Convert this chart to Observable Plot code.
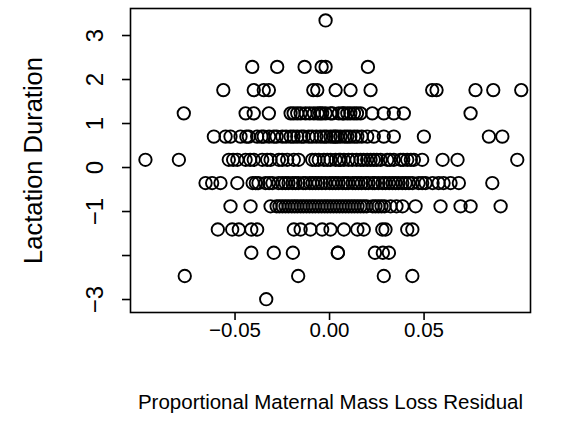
<!DOCTYPE html>
<html>
<head>
<meta charset="utf-8">
<script src="https://cdn.jsdelivr.net/npm/d3@7"></script>
<script src="https://cdn.jsdelivr.net/npm/@observablehq/plot@0.6"></script>
<style>
  html, body { margin: 0; padding: 0; background: #fff; }
  svg { display: block; }
</style>
</head>
<body>
<div id="chart"></div>
<script>
// Lactation duration levels (standardized) and residuals observed at each level
const level_p334 = 3.343, level_p229 = 2.287, level_p176 = 1.759, level_p123 = 1.231,
      level_p070 = 0.703, level_p018 = 0.175, level_m035 = -0.353, level_m088 = -0.881,
      level_m141 = -1.409, level_m194 = -1.937, level_m247 = -2.465, level_m299 = -2.993;

const resid_p334 = [-0.0021];
const resid_p229 = [-0.0409, -0.0277, -0.0132, -0.0042, -0.0021, 0.0203];
const resid_p176 = [-0.0562, -0.0401, -0.0348, -0.0321, -0.0086, -0.0065, 0.0032, 0.0111, 0.0217, 0.0543, 0.0566, 0.0772, 0.0866, 0.1014];
const resid_p123 = [-0.0771, -0.0444, -0.0401, -0.0321, -0.0206, -0.0171, -0.0127, -0.0083, -0.0039, 0.0005, 0.0049, 0.0094, 0.0129, 0.0164, 0.0226, 0.0287, 0.0340, 0.0393, 0.0746, -0.0153, -0.0063, -0.0021, 0.0069,
  -0.0190, -0.0105, -0.0050, 0.0015, 0.0075, 0.0110, 0.0145];
const resid_p070 = [-0.0612, -0.0550, -0.0524, -0.0471, -0.0427, -0.0383, -0.0348, -0.0295, -0.0250, -0.0206, -0.0171, -0.0136, -0.0092, -0.0048, 0.0005, 0.0041, 0.0094, 0.0147, 0.0199, 0.0234, 0.0287, 0.0340, 0.0499, 0.0843, 0.0914, 0.0021, 0.0058, -0.0016, 0.0079, -0.0280,
  -0.0440, -0.0360, -0.0320, -0.0230, -0.0190, -0.0150, -0.0110, -0.0070, -0.0030, 0.0030, 0.0110, 0.0130, 0.0170];
const resid_p018 = [-0.0974, -0.0797, -0.0533, -0.0488, -0.0444, -0.0401, -0.0356, -0.0312, -0.0268, -0.0224, -0.0189, -0.0092, -0.0057, -0.0012, 0.0032, 0.0076, 0.0120, 0.0164, 0.0199, 0.0234, 0.0270, 0.0305, 0.0340, 0.0376, 0.0411, 0.0446, 0.0490, 0.0598, 0.0677, 0.0993, -0.0164, 0.0005, 0.0058, 0.0143, 0.0217,
  -0.0510, -0.0420, -0.0330, -0.0250, -0.0075, -0.0030, 0.0050, 0.0100, 0.0180, 0.0250, 0.0320, 0.0390, 0.0430];
const resid_m035 = [-0.0656, -0.0621, -0.0577, -0.0488, -0.0407, -0.0376, -0.0339, -0.0302, -0.0270, -0.0233, -0.0196, -0.0164, -0.0127, -0.0090, -0.0058, -0.0021, 0.0016, 0.0048, 0.0085, 0.0122, 0.0153, 0.0190, 0.0228, 0.0259, 0.0296, 0.0333, 0.0365, 0.0402, 0.0439, 0.0471, 0.0508, 0.0545, 0.0577, 0.0603, 0.0640, 0.0684, 0.0861, -0.0217, -0.0074, 0.0069, 0.0206, 0.0349,
  -0.0390, -0.0320, -0.0250, -0.0180, -0.0140, -0.0105, -0.0040, 0.0000, 0.0032, 0.0100, 0.0137, 0.0170, 0.0240, 0.0280, 0.0315, 0.0385, 0.0420, 0.0490];
const resid_m088 = [-0.0524, -0.0418, -0.0312, -0.0280, -0.0249, -0.0217, -0.0185, -0.0153, -0.0122, -0.0090, -0.0058, -0.0026, 0.0005, 0.0037, 0.0069, 0.0101, 0.0132, 0.0164, 0.0196, 0.0228, 0.0259, 0.0291, 0.0323, 0.0354, 0.0386, 0.0455, 0.0587, 0.0693, 0.0746, 0.0905, -0.0233, -0.0106, -0.0011,
  -0.0265, -0.0200, -0.0170, -0.0138, -0.0075, -0.0042, 0.0021, 0.0053, 0.0085, 0.0117, 0.0148, 0.0180, 0.0243, 0.0275];
const resid_m141 = [-0.0591, -0.0515, -0.0480, -0.0414, -0.0383, -0.0189, -0.0153, -0.0101, -0.0039, 0.0005, 0.0076, 0.0147, 0.0181, 0.0279, 0.0296, 0.0411, 0.0438];
const resid_m194 = [-0.0414, -0.0295, -0.0194, 0.0044, 0.0044, 0.0240, 0.0282, 0.0314];
const resid_m247 = [-0.0766, -0.0166, 0.0287, 0.0438];
const resid_m299 = [-0.0335];

const xTicks = [-0.05, 0.00, 0.05];
const yTicks = [-3, -2, -1, 0, 1, 2, 3];
const yTickLabels = ["\u22123", "", "\u22121", "0", "1", "2", "3"];
const xLabel = "Proportional Maternal Mass Loss Residual";
const yLabel = "Lactation Duration";

const groups = [
  [level_p334, resid_p334], [level_p229, resid_p229], [level_p176, resid_p176],
  [level_p123, resid_p123], [level_p070, resid_p070], [level_p018, resid_p018],
  [level_m035, resid_m035], [level_m088, resid_m088], [level_m141, resid_m141],
  [level_m194, resid_m194], [level_m247, resid_m247], [level_m299, resid_m299]
];
const data = groups.flatMap(([lvl, xs]) => xs.map(x => ({x, y: lvl})));

const fmtX = d => (d < 0 ? "\u2212" : "") + Math.abs(d).toFixed(2);

const chart = Plot.plot({
  width: 584,
  height: 440,
  marginLeft: 130,
  marginRight: 54,
  marginTop: 8,
  marginBottom: 128,
  style: {fontFamily: "'Liberation Sans', Arial, sans-serif", fontSize: "20px", color: "#000", background: "#fff"},
  x: {domain: [-0.1053, 0.1063]},
  y: {domain: [-3.295, 3.614]},
  marks: [
    Plot.frame({stroke: "#000", strokeWidth: 1.6}),
    Plot.axisX({ticks: xTicks, tickFormat: fmtX, tickSize: 8, tickPadding: 2, strokeWidth: 1.6, fontSize: 20.5,
                label: xLabel, labelAnchor: "center", labelArrow: "none", labelOffset: 96}),
    Plot.axisY({ticks: yTicks, tickFormat: d => yTickLabels[yTicks.indexOf(d)], tickSize: 8, tickPadding: 20,
                tickRotate: -90, strokeWidth: 1.6, fontSize: 24, label: null}),
    Plot.text([yLabel], {text: d => d, frameAnchor: "left", rotate: -90, dx: -97, fontSize: 25.5,
                textAnchor: "middle", lineAnchor: "middle", fill: "#000"}),
    Plot.dot(data, {x: "x", y: "y", r: 6.2, stroke: "#000", strokeWidth: 1.9, fill: "none"})
  ]
});
document.getElementById("chart").appendChild(chart);
</script>
</body>
</html>
